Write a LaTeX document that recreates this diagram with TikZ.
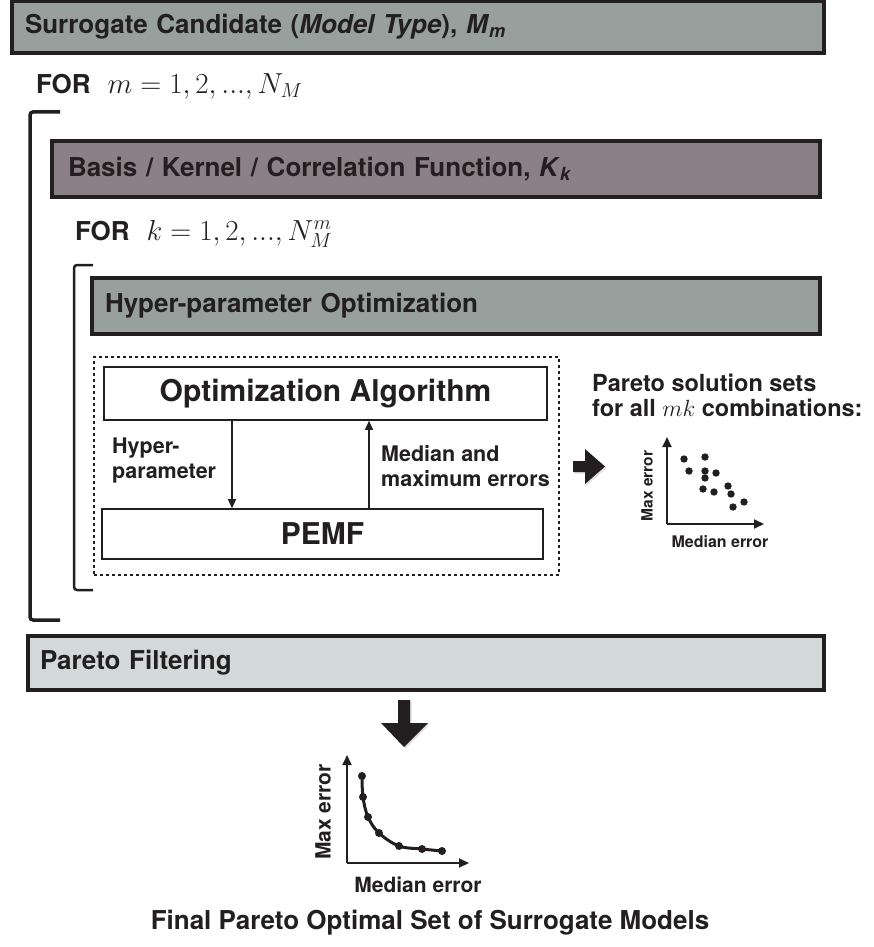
\RequirePackage{fix-cm}
\documentclass[tikz,border=0pt]{standalone}
\usepackage{fontspec}
\setmainfont{TeX Gyre Heros}
\usetikzlibrary{arrows.meta,shadows}

\definecolor{boxgreen}{RGB}{151,160,157}
\definecolor{boxmauve}{RGB}{140,128,135}
\definecolor{boxlight}{RGB}{211,216,216}
\definecolor{boxline}{RGB}{35,31,32}

\newcommand{\forline}[2]{\textbf{FOR}\hspace{0.65em}{\fontsize{29}{32}\selectfont$#1=1,2,...,#2$}}

\tikzset{
  headbox/.style={draw=boxline,line width=3.5pt,rectangle,align=left,
    font=\fontsize{26}{30}\selectfont\bfseries,text=boxline,
    drop shadow={shadow xshift=2pt,shadow yshift=-2pt,opacity=.25}},
  stagebox/.style={draw=boxline,line width=1.6pt,rectangle,
    font=\fontsize{30}{34}\selectfont\bfseries,text=boxline},
  note/.style={align=left,font=\fontsize{21.5}{25}\selectfont\bfseries,text=boxline,inner sep=0pt},
  loopfor/.style={anchor=west,inner sep=0pt,font=\fontsize{26}{30}\selectfont,text=boxline},
  bracket/.style={draw=boxline,rounded corners=3pt},
  axis/.style={draw=boxline,line width=2pt,-{Triangle[length=10pt,width=9pt]}},
  flow/.style={draw=boxline,line width=1.3pt,-{Triangle[length=9pt,width=8pt]}},
  fat/.style={fill=boxline,drop shadow={shadow xshift=1.5pt,shadow yshift=-1.5pt,opacity=.25}},
}

\begin{document}
\begin{tikzpicture}[x=1pt,y=-1pt,line join=miter]
  \useasboundingbox (0,0) rectangle (873,947);

  % outer loop
  \node[headbox,fill=boxgreen,minimum width=812pt,minimum height=52pt,
        inner xsep=13pt,text width=786pt] (surr) at (418,27)
    {Surrogate Candidate (\textit{Model Type}), \textit{M}\textsubscript{\textit{m}}};
  \node[loopfor] (form) at (36,86) {\forline{m}{N_M}};
  \draw[bracket,line width=3.5pt] (60,112) -- (30,112) -- (30,620) -- (60,620);

  % inner loop
  \node[headbox,fill=boxmauve,minimum width=768pt,minimum height=56pt,
        inner xsep=16pt,text width=736pt] (kern) at (436,169)
    {Basis / Kernel / Correlation Function, \textit{K}\textsubscript{\textit{k}}};
  \node[loopfor] (fork) at (75,234) {\forline{k}{N_M^m}};
  \draw[bracket,line width=2.5pt] (93,265) -- (74,265) -- (74,590) -- (93,590);

  % optimization loop
  \node[headbox,fill=boxgreen,minimum width=728pt,minimum height=56pt,
        inner xsep=13pt,text width=702pt] (hyper) at (456,306)
    {Hyper-parameter Optimization};
  \node[draw=boxline,line width=1.6pt,dash pattern=on 3pt off 3pt,
        minimum width=465pt,minimum height=218pt] (loop) at (326.5,466) {};
  \node[stagebox,minimum width=443pt,minimum height=53pt] (algo) at (325.5,393.5)
    {Optimization Algorithm};
  \node[stagebox,minimum width=441pt,minimum height=50pt] (pemf) at (322.5,534)
    {PEMF};
  \draw[flow] ([xshift=-93.5pt]algo.south) -- ([xshift=-93.5pt]algo.south |- pemf.north);
  \draw[flow] ([xshift=43.5pt]algo.south |- pemf.north) -- ([xshift=43.5pt]algo.south);
  \node[note,anchor=west] (hp) at (112,460.5) {Hyper-\\parameter};
  \node[note,anchor=west] (err) at (381,466) {Median and\\maximum errors};

  % pareto sets per combination
  \node[note,anchor=west,font=\fontsize{23.5}{25}\selectfont\bfseries] (sets) at (592,395.5)
    {Pareto solution sets\\for all $mk$ combinations:};
  \fill[fat] (573,461) -- (585,461) -- (585,449) -- (605,466.5) -- (585,484)
    -- (585,472) -- (573,472) -- cycle;
  \coordinate (so) at (667,524);
  \draw[axis] (so) -- (667,437);
  \draw[axis] (so) -- (764,524);
  \foreach \p in {(684,459),(705,457),(689,471),(705,471),(716,473),(705,478),
                  (703,489),(714,492),(728,486),(731,494),(744,502),(733,507)}
    \fill[boxline] \p circle (3.7pt);
  \node[note,rotate=90,font=\fontsize{15.5}{18}\selectfont\bfseries] (smax) at (647,486) {Max error};
  \node[note,font=\fontsize{16}{18}\selectfont\bfseries] (smed) at (720,542) {Median error};

  % filtering
  \node[headbox,fill=boxlight,minimum width=796pt,minimum height=54pt,
        inner xsep=12pt,text width=772pt] (filt) at (426,663)
    {Pareto Filtering};
  \fill[fat] (398,700) -- (410,700) -- (410,723) -- (428,723) -- (404,747)
    -- (381,723) -- (398,723) -- cycle;

  % final front
  \coordinate (fo) at (347,863);
  \draw[axis] (fo) -- (347,755);
  \draw[axis] (fo) -- (469,863);
  \draw[boxline,line width=3pt] plot[smooth,tension=0.6] coordinates
    {(362,776) (363,797) (368,817) (379,833) (399,846) (422,849) (442,851)};
  \foreach \p in {(362,776),(363,797),(368,817),(379,833),(399,846),(422,849),(442,851)}
    \fill[boxline] \p circle (4pt);
  \node[note,rotate=90,font=\fontsize{21}{24}\selectfont\bfseries] (fmax) at (323,812) {Max error};
  \node[note,font=\fontsize{21}{24}\selectfont\bfseries] (fmed) at (418,885) {Median error};
  \node[note,font=\fontsize{26}{30}\selectfont\bfseries] (final) at (430,923)
    {Final Pareto Optimal Set of Surrogate Models};
\end{tikzpicture}
\end{document}
